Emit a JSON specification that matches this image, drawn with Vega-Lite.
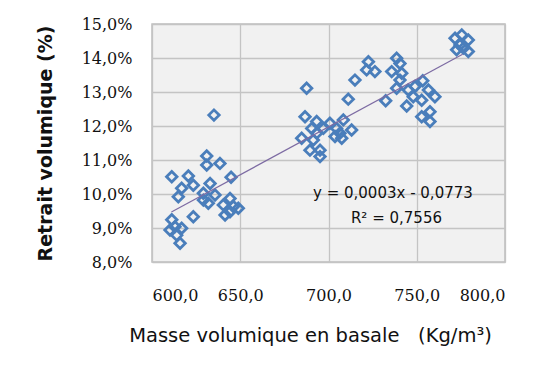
{
  "$schema": "https://vega.github.io/schema/vega-lite/v6.json",
  "width": 353,
  "height": 238,
  "autosize": "none",
  "padding": {"left": 152, "top": 24, "right": 39, "bottom": 109},
  "background": "white",
  "config": {
    "locale": {"number": {"decimal": ",", "thousands": " ", "grouping": [3], "currency": ["", " €"]}},
    "view": {"fill": "#f1f1f1", "stroke": "#bfbfbf", "strokeWidth": 1.5}
  },
  "data": {"values": [
    {"x": 631.0, "y": 0.1112}, {"x": 631.0, "y": 0.1085}, {"x": 638.5, "y": 0.1090}, {"x": 611.2, "y": 0.1051},
    {"x": 620.6, "y": 0.1053}, {"x": 644.8, "y": 0.1049}, {"x": 623.4, "y": 0.1026}, {"x": 632.9, "y": 0.1031},
    {"x": 616.8, "y": 0.1017}, {"x": 614.9, "y": 0.0992}, {"x": 629.1, "y": 0.1002}, {"x": 635.7, "y": 0.0997},
    {"x": 629.1, "y": 0.0982}, {"x": 631.9, "y": 0.0973}, {"x": 644.2, "y": 0.0987}, {"x": 640.4, "y": 0.0968},
    {"x": 646.1, "y": 0.0963}, {"x": 648.9, "y": 0.0958}, {"x": 641.4, "y": 0.0938}, {"x": 623.4, "y": 0.0933},
    {"x": 611.2, "y": 0.0924}, {"x": 613.0, "y": 0.0904}, {"x": 616.8, "y": 0.0899}, {"x": 610.2, "y": 0.0894},
    {"x": 614.0, "y": 0.0879}, {"x": 615.9, "y": 0.0855}, {"x": 644.2, "y": 0.0948}, {"x": 635.1, "y": 0.1232},
    {"x": 687.6, "y": 0.1311}, {"x": 711.2, "y": 0.1279}, {"x": 715.0, "y": 0.1335}, {"x": 686.7, "y": 0.1227},
    {"x": 693.3, "y": 0.1213}, {"x": 700.8, "y": 0.1208}, {"x": 708.4, "y": 0.1218}, {"x": 690.5, "y": 0.1193},
    {"x": 697.1, "y": 0.1193}, {"x": 704.6, "y": 0.1193}, {"x": 713.1, "y": 0.1188}, {"x": 693.3, "y": 0.1179},
    {"x": 706.5, "y": 0.1179}, {"x": 684.8, "y": 0.1164}, {"x": 691.4, "y": 0.1159}, {"x": 703.7, "y": 0.1169},
    {"x": 689.5, "y": 0.1129}, {"x": 695.2, "y": 0.1129}, {"x": 695.2, "y": 0.1110}, {"x": 707.5, "y": 0.1164},
    {"x": 722.6, "y": 0.1389}, {"x": 721.6, "y": 0.1365}, {"x": 726.3, "y": 0.1360}, {"x": 738.6, "y": 0.1399},
    {"x": 740.5, "y": 0.1384}, {"x": 735.8, "y": 0.1360}, {"x": 741.5, "y": 0.1355}, {"x": 740.5, "y": 0.1335},
    {"x": 738.6, "y": 0.1311}, {"x": 732.4, "y": 0.1274}, {"x": 745.2, "y": 0.1306}, {"x": 749.0, "y": 0.1316},
    {"x": 753.4, "y": 0.1333}, {"x": 748.0, "y": 0.1286}, {"x": 752.8, "y": 0.1276}, {"x": 756.6, "y": 0.1306},
    {"x": 760.3, "y": 0.1286}, {"x": 744.3, "y": 0.1259}, {"x": 757.5, "y": 0.1242}, {"x": 752.8, "y": 0.1227},
    {"x": 757.5, "y": 0.1213},
    {"x": 775.5, "y": 0.1468}, {"x": 771.7, "y": 0.1458}, {"x": 779.2, "y": 0.1453}, {"x": 774.5, "y": 0.1438},
    {"x": 772.6, "y": 0.1424}, {"x": 779.2, "y": 0.1419}, {"x": 776.4, "y": 0.1429}
  ]},
  "encoding": {
    "x": {"field": "x", "type": "quantitative",
          "scale": {"domain": [600, 800], "nice": false, "zero": false},
          "axis": {"values": [600, 650, 700, 750, 800], "format": ".1f", "labelPadding": 25,
                   "domain": false, "ticks": false, "gridColor": "#c4c4c4", "gridWidth": 1.3,
                   "labelFont": "DejaVu Serif", "labelFontSize": 16, "labelColor": "#111",
                   "title": "Masse volumique en basale\u00a0\u00a0\u00a0(Kg/m³)", "titleFont": "DejaVu Sans", "titleFontSize": 19.5,
                   "titleFontWeight": "normal", "titlePadding": 23, "titleColor": "#111",
                   "titleX": 158, "titleAlign": "center", "titleAnchor": "middle"}},
    "y": {"field": "y", "type": "quantitative",
          "scale": {"domain": [0.08, 0.15], "nice": false, "zero": false},
          "axis": {"values": [0.08, 0.09, 0.10, 0.11, 0.12, 0.13, 0.14, 0.15], "format": ".1%", "labelPadding": 20,
                   "domain": false, "ticks": false, "gridColor": "#c4c4c4", "gridWidth": 1.3,
                   "labelFont": "DejaVu Serif", "labelFontSize": 16, "labelColor": "#111",
                   "title": "Retrait volumique (%)", "titleFont": "DejaVu Sans", "titleFontSize": 19,
                   "titleFontWeight": "bold", "titlePadding": 26, "titleColor": "#111"}}
  },
  "layer": [
    {"mark": {"type": "point", "shape": "diamond", "filled": false, "size": 110, "strokeWidth": 2.8, "color": "#4a7ebb", "opacity": 1}},
    {"transform": [{"regression": "y", "on": "x", "extent": [611, 776]}],
     "mark": {"type": "line", "color": "#7d6ba3", "strokeWidth": 1.2}},
    {"data": {"values": [{"t": "y = 0,0003x - 0,0773", "px": 736.5, "py": 0.1003}, {"t": "R² = 0,7556", "px": 738.5, "py": 0.0929}]},
     "mark": {"type": "text", "font": "DejaVu Sans", "fontSize": 15, "color": "#111"},
     "encoding": {"x": {"field": "px", "type": "quantitative"}, "y": {"field": "py", "type": "quantitative"}, "text": {"field": "t"}}}
  ]
}
